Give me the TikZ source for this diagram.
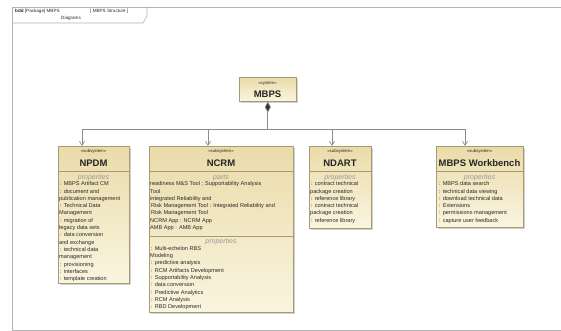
\documentclass[tikz,border=0pt]{standalone}
\usepackage{fontspec}
\setmainfont{Liberation Sans}
\usetikzlibrary{arrows.meta,shadows,calc}

\definecolor{boxedge}{HTML}{A89B72}
\definecolor{boxtop}{HTML}{EADBA9}
\definecolor{boxbot}{HTML}{FAF5E0}
\definecolor{wirec}{HTML}{8C8C8C}
\definecolor{framec}{HTML}{B4B4B4}
\definecolor{ink}{HTML}{2A2A2A}
\definecolor{sectc}{HTML}{9A9A9A}

\tikzset{
  block/.style={draw=boxedge, line width=0.6pt, top color=boxtop, bottom color=boxbot,
    anchor=north west, inner sep=0,
    drop shadow={shadow xshift=1.5pt, shadow yshift=-1.5pt, fill=black!35, opacity=0.5}},
  stereo/.style={font=\fontsize{4.3}{5}\selectfont, text=ink, inner sep=0},
  blocktitle/.style={font=\fontsize{9.5}{10}\selectfont\bfseries, text=black!85, inner sep=0},
  secttitle/.style={font=\fontsize{7}{8}\selectfont\itshape, text=sectc, inner sep=0},
  bodytext/.style={font=\fontsize{5.6}{7.3}\selectfont, text=ink, align=left, inner sep=0, anchor=north west},
  divider/.style={draw=boxedge, line width=0.5pt},
  wire/.style={draw=wirec, line width=0.7pt},
  tip/.style={-{Straight Barb[length=4pt,width=5pt]}},
  tabtext/.style={font=\fontsize{4.6}{5.4}\selectfont, text=ink, inner sep=0, anchor=base west}
}

\begin{document}
\begin{tikzpicture}[x=1pt,y=-1pt]
\useasboundingbox (0,0) rectangle (561,331);
\fill[white] (0,0) rectangle (561,331);

% diagram frame and its name tab
\draw[framec, line width=0.8pt] (566,7) -- (12,7) -- (12,330) -- (566,330);
\draw[framec, line width=0.6pt] (12,23) -- (143,23) -- (147,16) -- (147,7);
\node[tabtext] (tab1) at (15,13) {\textbf{bdd} [Package] MBPS};
\node[tabtext] (tab2) at (61,19.5) {Diagrams};
\node[tabtext] (tab3) at (90,13) {[ MBPS Structure ]};

% system block
\node[block, minimum width=57, minimum height=24] (mbps) at (239,77) {};
\node[stereo] (mbpsst) at (267.5,84) {«system»};
\node[blocktitle] (mbpsnm) at (267.5,94) {MBPS};

% subsystem blocks
\node[block, minimum width=71, minimum height=137] (npdm) at (58,146) {};
\node[block, minimum width=144, minimum height=166] (ncrm) at (149,146) {};
\node[block, minimum width=62, minimum height=82] (ndart) at (309,146) {};
\node[block, minimum width=87, minimum height=81] (wb) at (436,146) {};

% NPDM
\node[stereo] (npdmst) at (93.5,151) {«subsystem»};
\node[blocktitle] (npdmnm) at (93.5,163) {NPDM};
\draw[divider] (58,171) -- (129,171);
\node[secttitle] (npdmsec) at (93.5,177.5) {properties};
\node[bodytext] (npdmtxt) at (59,181.5) {\,: MBPS Artifact CM\\
\,: document and\\
publication management\\
\,: Technical Data\\
Management\\
\,: migration of\\
legacy data sets\\
\,: data conversion\\
and exchange\\
\,: technical data\\
management\\
\,: provisioning\\
\,: interfaces\\
\,: template creation};

% NCRM
\node[stereo] (ncrmst) at (221,151) {«subsystem»};
\node[blocktitle] (ncrmnm) at (221,163) {NCRM};
\draw[divider] (149,171) -- (293,171);
\node[secttitle] (ncrmsec1) at (221,177.5) {parts};
\node[bodytext] (ncrmparts) at (150,181.5) {readiness M\&S Tool : Supportability Analysis\\
Tool\\
integrated Reliability and\\
\,Risk Management Tool : Integrated Reliability and\\
\,Risk Management Tool\\
NCRM App : NCRM App\\
AMB App : AMB App};
\draw[divider] (149,236) -- (293,236);
\node[secttitle] (ncrmsec2) at (221,242) {properties};
\node[bodytext] (ncrmprops) at (150,246) {\,: Multi-echelon RBS\\
Modeling\\
\,: predictive analysis\\
\,: RCM Artifacts Development\\
\,: Supportability Analysis\\
\,: data conversion\\
\,: Predictive Analytics\\
\,: RCM Analysis\\
\,: RBD Development};

% NDART
\node[stereo] (ndartst) at (340,151) {«subsystem»};
\node[blocktitle] (ndartnm) at (340,163) {NDART};
\draw[divider] (309,171) -- (371,171);
\node[secttitle] (ndartsec) at (340,177.5) {properties};
\node[bodytext] (ndarttxt) at (310,181.5) {\,: contract technical\\
package creation\\
\,: reference library\\
\,: contract technical\\
package creation\\
\,: reference library};

% MBPS Workbench
\node[stereo] (wbst) at (479.5,151) {«subsystem»};
\node[blocktitle] (wbnm) at (479.5,163) {MBPS Workbench};
\draw[divider] (436,171) -- (523,171);
\node[secttitle] (wbsec) at (479.5,177.5) {properties};
\node[bodytext] (wbtxt) at (438,181.5) {\,: MBPS data search\\
\,: technical data viewing\\
\,: download technical data\\
\,: Extensions\\
\,: permissions management\\
\,: capture user feedback};

% composition tree
\coordinate (junc) at (mbps.south |- 0,129);
\draw[wire, {Diamond[length=11pt,width=6pt,fill=black!80]}-] (mbps.south) -- (junc);
\draw[wire, tip] (junc) -| (npdm.north -| 82,0);
\draw[wire, tip] (junc) -| (ncrm.north -| 208,0);
\draw[wire, tip] (junc) -| (ndart.north -| 332,0);
\draw[wire, tip] (junc) -| (wb.north -| 465,0);
\end{tikzpicture}
\end{document}
